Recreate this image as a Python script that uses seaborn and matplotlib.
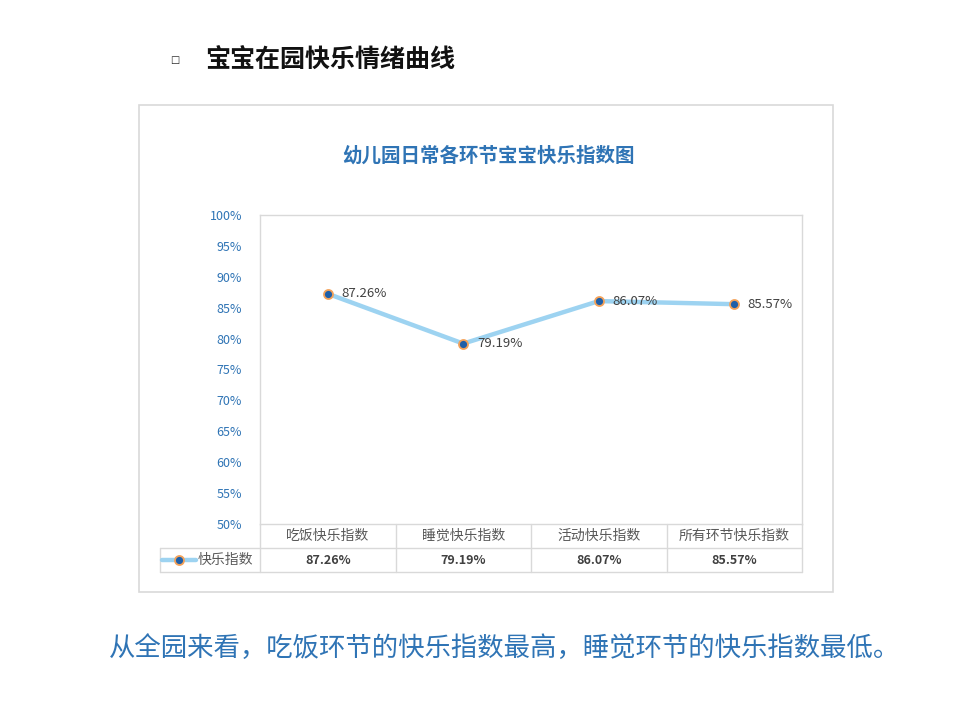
import matplotlib.pyplot as plt
import seaborn as sns
from matplotlib.lines import Line2D
from matplotlib.patches import Rectangle

sns.set_theme(style="white")
plt.rcParams['font.family'] = ['Noto Sans CJK SC', 'DejaVu Sans']

categories = ["吃饭快乐指数", "睡觉快乐指数", "活动快乐指数", "所有环节快乐指数"]
happy = [87.26, 79.19, 86.07, 85.57]
series_name = "快乐指数"
yticks = [50, 55, 60, 65, 70, 75, 80, 85, 90, 95, 100]

W, H = 956, 716
fig = plt.figure(figsize=(W / 100, H / 100), dpi=100)


def fx(x):
    return x / W


def fy(y):
    return 1 - y / H


BLUE_TXT = "#2F74B5"
GRID = "#D9D9D9"
LINE_C = "#9DD3F1"
MK_FACE = "#1F5FA8"
MK_EDGE = "#F4A259"
TXT = "#595959"

# outer chart frame
fig.add_artist(Rectangle((fx(139), fy(592)), fx(833) - fx(139), fy(105) - fy(592),
                         transform=fig.transFigure, fill=False, edgecolor=GRID, lw=1.2))

fig.text(fx(175), fy(60), "□", fontsize=7, ha="center", va="center",
         family="DejaVu Sans", color="#222222")
fig.text(fx(205), fy(61), "宝宝在园快乐情绪曲线", fontsize=18, fontweight="bold",
         ha="left", va="center", color="#111111")
fig.text(fx(488), fy(156), "幼儿园日常各环节宝宝快乐指数图", fontsize=14,
         fontweight="bold", ha="center", va="center", color=BLUE_TXT)
fig.text(fx(505), fy(648), "从全园来看，吃饭环节的快乐指数最高，睡觉环节的快乐指数最低。",
         fontsize=19, ha="center", va="center", color=BLUE_TXT)

ax = fig.add_axes([fx(260), fy(524), fx(802) - fx(260), fy(215) - fy(524)])
xs = list(range(len(categories)))
sns.lineplot(x=xs, y=happy, ax=ax, color=LINE_C, linewidth=3.2, marker="o",
             markersize=6.5, markerfacecolor=MK_FACE, markeredgecolor=MK_EDGE,
             markeredgewidth=1.3)

for x, v in zip(xs, happy):
    ax.text(x + 0.1, v, f"{v:.2f}%", fontsize=9.5, va="center", ha="left",
            color="#404040")

ax.set_xlim(-0.5, len(categories) - 0.5)
ax.set_ylim(50, 100)
ax.set_yticks(yticks)
ax.set_yticklabels([f"{t}%" for t in yticks], color=BLUE_TXT, fontsize=9)
ax.set_xticks([])
ax.tick_params(axis="y", length=0, pad=13)
for s in ax.spines.values():
    s.set_color(GRID)
    s.set_linewidth(1)

# data table under the axis
tr = ax.get_xaxis_transform()
ph = 524 - 215


def ay(y):
    return (524 - y) / ph


left_x = -0.5 - 100 / 135.5
for yy in (548, 572):
    ax.add_line(Line2D([left_x, 3.5], [ay(yy), ay(yy)], transform=tr, color=GRID,
                       lw=1, clip_on=False))
for b in [-0.5, 0.5, 1.5, 2.5, 3.5]:
    ax.add_line(Line2D([b, b], [ay(524), ay(572)], transform=tr, color=GRID,
                       lw=1, clip_on=False))
ax.add_line(Line2D([left_x, left_x], [ay(548), ay(572)], transform=tr, color=GRID,
                   lw=1, clip_on=False))

for x, c, v in zip(xs, categories, happy):
    ax.text(x, ay(536), c, transform=tr, ha="center", va="center", fontsize=10,
            color=TXT, clip_on=False)
    ax.text(x, ay(560), f"{v:.2f}%", transform=tr, ha="center", va="center",
            fontsize=9, color="#404040", fontweight="bold", clip_on=False)

# legend key in the table
kx0 = left_x + 2 / 135.5
kx1 = left_x + 36 / 135.5
ax.add_line(Line2D([kx0, kx1], [ay(560), ay(560)], transform=tr, color=LINE_C,
                   lw=3.2, clip_on=False))
ax.add_line(Line2D([(kx0 + kx1) / 2], [ay(560)], transform=tr, marker="o",
                   markersize=6.5, markerfacecolor=MK_FACE, markeredgecolor=MK_EDGE,
                   markeredgewidth=1.3, clip_on=False))
ax.text(left_x + 38 / 135.5, ay(560), series_name, transform=tr, ha="left",
        va="center", fontsize=10, color=TXT, clip_on=False)

fig.savefig("out.png", dpi=100)
